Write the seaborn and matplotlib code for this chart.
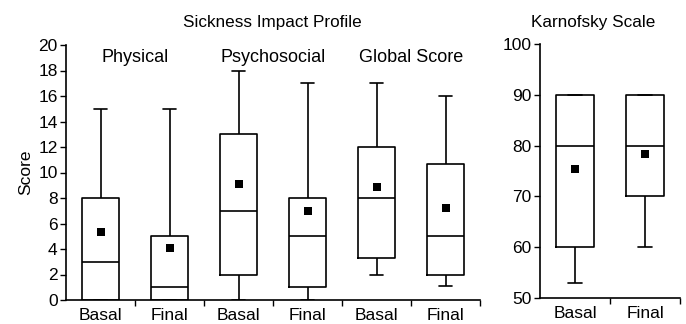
import numpy as np
import pandas as pd
import matplotlib
matplotlib.use("Agg")
import matplotlib.pyplot as plt
import seaborn as sns

# Values (five-number summaries + means)
domains = ["Physical", "Psychosocial", "Global Score"]
phases = ["Basal", "Final"]

sip_min = [0, 0, 0, 0, 2, 1.1]
sip_q1 = [0, 0, 2, 1, 3.3, 2]
sip_med = [3, 1, 7, 5, 8, 5]
sip_q3 = [8, 5, 13, 8, 12, 10.7]
sip_max = [15, 15, 18, 17, 17, 16]
sip_mean = [5.3, 4.1, 9.1, 7.0, 8.9, 7.2]

kps_min = [53, 60]
kps_q1 = [60, 70]
kps_med = [80, 80]
kps_q3 = [90, 90]
kps_max = [90, 90]
kps_mean = [75.4, 78.3]

sip_groups = [f"{d} {p}" for d in domains for p in phases]
kps_groups = phases


def five_num_frame(groups, *cols):
    rows = []
    for i, g in enumerate(groups):
        for col in cols:
            rows.append({"group": g, "value": col[i]})
    return pd.DataFrame(rows)


sip_df = five_num_frame(sip_groups, sip_min, sip_q1, sip_med, sip_q3, sip_max)
kps_df = five_num_frame(kps_groups, kps_min, kps_q1, kps_med, kps_q3, kps_max)

sns.set_style("ticks", {"axes.edgecolor": "black", "xtick.color": "black",
                        "ytick.color": "black", "text.color": "black",
                        "axes.labelcolor": "black"})
plt.rcParams["font.family"] = ["Liberation Sans", "DejaVu Sans"]

fig = plt.figure(figsize=(6.86, 3.24), dpi=100)
ax1 = fig.add_axes([66 / 686, 1 - 300 / 324, 414 / 686, 255 / 324])
ax2 = fig.add_axes([540 / 686, 1 - 298 / 324, 140 / 686, 254 / 324])

box_kws = dict(x="group", y="value", whis=(0, 100), width=0.54, fill=False,
               color="black", linewidth=1.2, capwidths=0.19, showfliers=False)

sns.boxplot(data=sip_df, order=sip_groups, ax=ax1, **box_kws)
sns.stripplot(x=sip_groups, y=sip_mean, order=sip_groups, jitter=False, marker="s",
              color="black", size=6, linewidth=0, ax=ax1, zorder=5)

sns.boxplot(data=kps_df, order=kps_groups, ax=ax2, **box_kws)
sns.stripplot(x=kps_groups, y=kps_mean, order=kps_groups, jitter=False, marker="s",
              color="black", size=6, linewidth=0, ax=ax2, zorder=5)

for ax, n in [(ax1, 6), (ax2, 2)]:
    ax.set_xlim(-0.5, n - 0.5)
    ax.set_xticks(range(n))
    ax.set_xticklabels(phases * (n // 2), fontsize=12.5)
    ax.set_xticks(np.arange(0.5, n, 1), minor=True)
    ax.tick_params(axis="x", which="major", length=0, pad=6)
    ax.tick_params(axis="x", which="minor", length=4, width=1, direction="out")
    ax.tick_params(axis="y", length=4, width=1, labelsize=12.5, pad=2)
    ax.set_xlabel("")
    sns.despine(ax=ax)
    for sp in ax.spines.values():
        sp.set_linewidth(1.2)
        sp.set_color("black")

ax1.set_ylim(0, 20)
ax1.set_yticks(range(0, 21, 2))
ax1.set_ylabel("Score", fontsize=12.5, labelpad=4)
ax2.set_ylim(50, 100)
ax2.set_yticks(range(50, 101, 10))
ax2.set_ylabel("")

for i, d in enumerate(domains):
    ax1.text(2 * i + 0.5, 19.0, d, ha="center", va="center", fontsize=13)

fig.text(272 / 686, 1 - 22 / 324, "Sickness Impact Profile", ha="center", va="center", fontsize=12.3)
fig.text(593 / 686, 1 - 22 / 324, "Karnofsky Scale", ha="center", va="center", fontsize=12.3)

fig.savefig("out.png", dpi=100)
